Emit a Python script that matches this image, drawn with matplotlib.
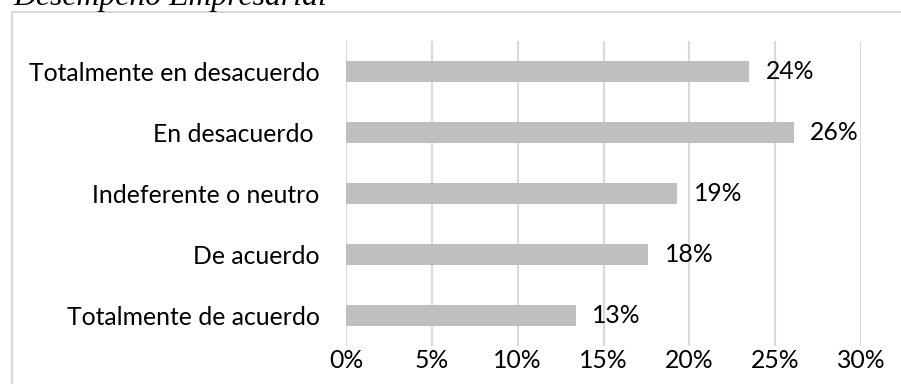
import matplotlib
matplotlib.use("Agg")
import matplotlib.pyplot as plt
from matplotlib.patches import Rectangle
from matplotlib.ticker import FuncFormatter

categories = ["Totalmente en desacuerdo", "En desacuerdo ", "Indeferente o neutro",
              "De acuerdo", "Totalmente de acuerdo"]
values = [23.5, 26.1, 19.3, 17.6, 13.4]
xticks = [0, 5, 10, 15, 20, 25, 30]
title = "Desempeño Empresarial"

W, H, DPI = 901, 384, 100
FS = 17.8
fig = plt.figure(figsize=(W / DPI, H / DPI), dpi=DPI)
fig.patch.set_facecolor("white")

# chart border (frame, partly off-canvas)
fig.patches.append(Rectangle((12 / W, -0.1), 1.2, (H - 12) / H + 0.1,
                             transform=fig.transFigure, fill=False,
                             edgecolor="#D9D9D9", linewidth=1.5))

fig.text(13 / W, 1 - 5 / H, title, family="Liberation Serif", style="italic",
         fontsize=22.9, ha="left", va="baseline", color="black")

ax = fig.add_axes([346 / W, 1 - 346 / H, (861 - 346) / W, (346 - 41) / H])
y = list(range(len(categories)))
ax.barh(y, values, height=0.35, color="#BFBFBF", zorder=3)
ax.set_ylim(len(categories) - 0.5, -0.5)
ax.set_xlim(0, 30)
ax.set_yticks(y)
ax.set_yticklabels(categories, family="Lato", fontsize=FS, color="#000000")
ax.set_xticks(xticks)
ax.xaxis.set_major_formatter(FuncFormatter(lambda v, p: f"{v:.0f}%"))
for lbl in ax.get_xticklabels():
    lbl.set_family("Lato")
    lbl.set_fontsize(FS)
ax.tick_params(axis="both", length=0)
ax.tick_params(axis="y", pad=19)
ax.tick_params(axis="x", pad=2)
ax.grid(axis="x", color="#D9D9D9", linewidth=1.5, zorder=0)
for s in ax.spines.values():
    s.set_visible(False)

for yi, v in zip(y, values):
    ax.text(v + 0.95, yi, f"{v:.0f}%", va="center", ha="left",
            family="Lato", fontsize=FS, color="#000000")

fig.savefig("out.png", dpi=DPI, facecolor="white")
